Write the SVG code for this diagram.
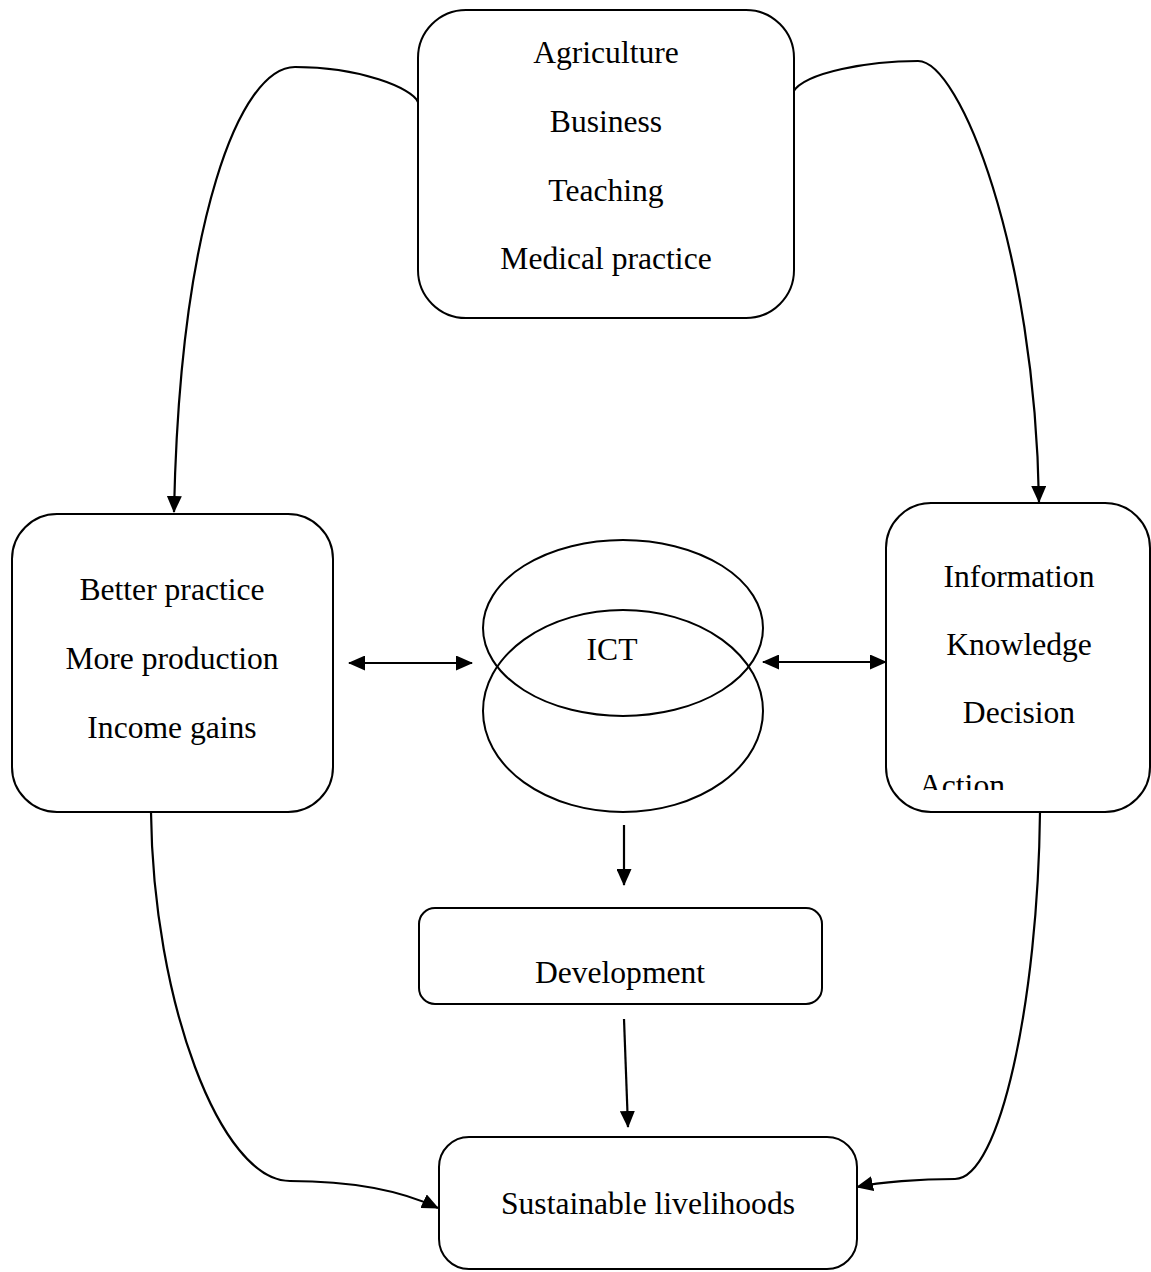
<svg xmlns="http://www.w3.org/2000/svg" width="1151" height="1272" viewBox="0 0 1151 1272">
<style>
.box{fill:#fff;stroke:#000;stroke-width:2}
.ell{fill:none;stroke:#000;stroke-width:2}
.lbl{font-family:"Liberation Serif","Times New Roman",serif;font-size:31.6px;fill:#000;text-anchor:middle}
.con{fill:none;stroke:#000;stroke-width:2.2}
</style>
<defs>
<marker id="ah" markerUnits="userSpaceOnUse" markerWidth="17" markerHeight="15" refX="16" refY="7.5" orient="auto-start-reverse">
<path d="M0,0 L17,7.5 L0,15 Z" fill="#000"/>
</marker>
<clipPath id="clipAction"><rect x="886" y="740" width="265" height="50"/></clipPath>
</defs>
<g id="connectors">
<path class="con" d="M418,102 C412,88 360,67 295,67 C240,67 180,220 174,512" marker-end="url(#ah)"/>
<path class="con" d="M793,92 C805,72 870,61 918,61 C960,61 1035,250 1039,502" marker-end="url(#ah)"/>
<path class="con" d="M151,812 C153,1000 220,1181 290,1181 C350,1181 400,1190 438,1208" marker-end="url(#ah)"/>
<path class="con" d="M1040,812 C1038,1000 1000,1179 955,1179 C920,1179 880,1182 857,1187" marker-end="url(#ah)"/>
<path class="con" d="M349,663 L472,663" marker-start="url(#ah)" marker-end="url(#ah)"/>
<path class="con" d="M763,662 L886,662" marker-start="url(#ah)" marker-end="url(#ah)"/>
<path class="con" d="M624,825 L624,885" marker-end="url(#ah)"/>
<path class="con" d="M624,1019 L628,1127" marker-end="url(#ah)"/>
</g>
<g id="node-sectors">
<rect class="box" x="418" y="10" width="376" height="308" rx="48" ry="48"/>
<text class="lbl" x="606" y="63">Agriculture</text>
<text class="lbl" x="606" y="132">Business</text>
<text class="lbl" x="606" y="201">Teaching</text>
<text class="lbl" x="606" y="269">Medical practice</text>
</g>
<g id="node-outcomes">
<rect class="box" x="12" y="514" width="321" height="298" rx="45" ry="45"/>
<text class="lbl" x="172" y="600">Better practice</text>
<text class="lbl" x="172" y="669">More production</text>
<text class="lbl" x="172" y="738">Income gains</text>
</g>
<g id="node-knowledge">
<rect class="box" x="886" y="503" width="264" height="309" rx="45" ry="45"/>
<text class="lbl" x="1019" y="587">Information</text>
<text class="lbl" x="1019" y="655">Knowledge</text>
<text class="lbl" x="1019" y="723">Decision</text>
<text class="lbl" x="919" y="796" style="text-anchor:start" clip-path="url(#clipAction)">Action</text>
</g>
<g id="node-ict">
<ellipse class="ell" cx="623" cy="628" rx="140" ry="88"/>
<ellipse class="ell" cx="623" cy="711" rx="140" ry="101"/>
<text class="lbl" x="612" y="660">ICT</text>
</g>
<g id="node-development">
<rect class="box" x="419" y="908" width="403" height="96" rx="16" ry="16"/>
<text class="lbl" x="620" y="983">Development</text>
</g>
<g id="node-livelihoods">
<rect class="box" x="439" y="1137" width="418" height="132" rx="30" ry="30"/>
<text class="lbl" x="648" y="1214">Sustainable livelihoods</text>
</g>
</svg>
